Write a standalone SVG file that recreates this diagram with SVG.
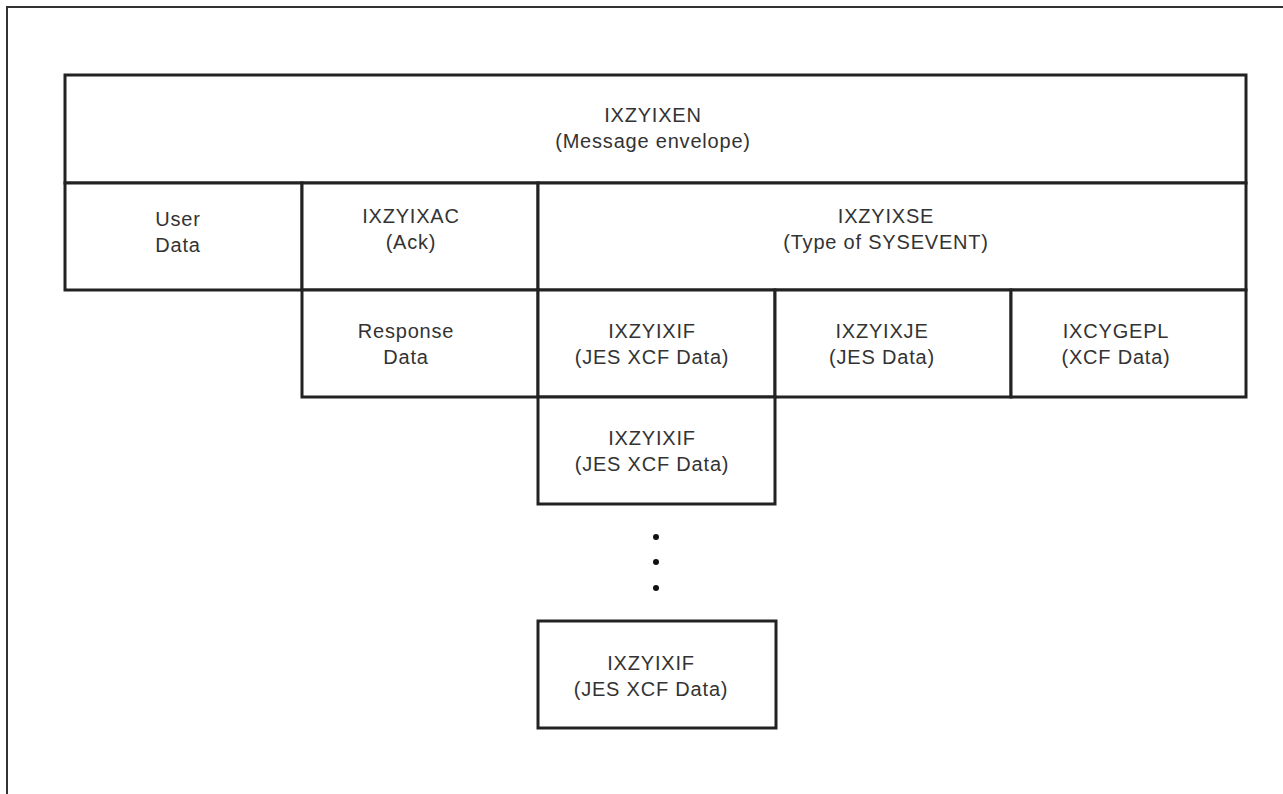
<svg xmlns="http://www.w3.org/2000/svg" width="1283" height="794" viewBox="0 0 1283 794">
<style>
.box{fill:#fff;stroke:#222;stroke-width:3}
.frame{fill:none;stroke:#333;stroke-width:2}
text{font-family:"Liberation Sans",Arial,sans-serif;font-size:20px;fill:#333;text-anchor:middle;letter-spacing:0.8px}
.dot{fill:#111}
</style>
<rect width="1283" height="794" fill="#fff"/>
<path class="frame" d="M7,794 V7 H1283"/>
<g id="envelope"><rect class="box" x="65" y="75" width="1181" height="108"/><text x="653" y="122">IXZYIXEN</text><text x="653" y="148">(Message envelope)</text></g>
<g id="userdata"><rect class="box" x="65" y="183" width="237" height="107"/><text x="178" y="226">User</text><text x="178" y="252">Data</text></g>
<g id="ack"><rect class="box" x="302" y="183" width="236" height="107"/><text x="411" y="223">IXZYIXAC</text><text x="411" y="249">(Ack)</text></g>
<g id="sysevent"><rect class="box" x="538" y="183" width="708" height="107"/><text x="886" y="223">IXZYIXSE</text><text x="886" y="249">(Type of SYSEVENT)</text></g>
<g id="response"><rect class="box" x="302" y="290" width="236" height="107"/><text x="406" y="338">Response</text><text x="406" y="364">Data</text></g>
<g id="jesxcf1"><rect class="box" x="538" y="290" width="237" height="107"/><text x="652" y="338">IXZYIXIF</text><text x="652" y="364">(JES XCF Data)</text></g>
<g id="jes"><rect class="box" x="775" y="290" width="236" height="107"/><text x="882" y="338">IXZYIXJE</text><text x="882" y="364">(JES Data)</text></g>
<g id="xcf"><rect class="box" x="1011" y="290" width="235" height="107"/><text x="1116" y="338">IXCYGEPL</text><text x="1116" y="364">(XCF Data)</text></g>
<g id="jesxcf2"><rect class="box" x="538" y="397" width="237" height="107"/><text x="652" y="445">IXZYIXIF</text><text x="652" y="471">(JES XCF Data)</text></g>
<g id="ellipsis"><circle class="dot" cx="656" cy="537" r="3"/><circle class="dot" cx="656" cy="562" r="3"/><circle class="dot" cx="656" cy="588" r="3"/></g>
<g id="jesxcfn"><rect class="box" x="538" y="621" width="238" height="107"/><text x="651" y="670">IXZYIXIF</text><text x="651" y="696">(JES XCF Data)</text></g>
<g id="connectors"></g>
</svg>
